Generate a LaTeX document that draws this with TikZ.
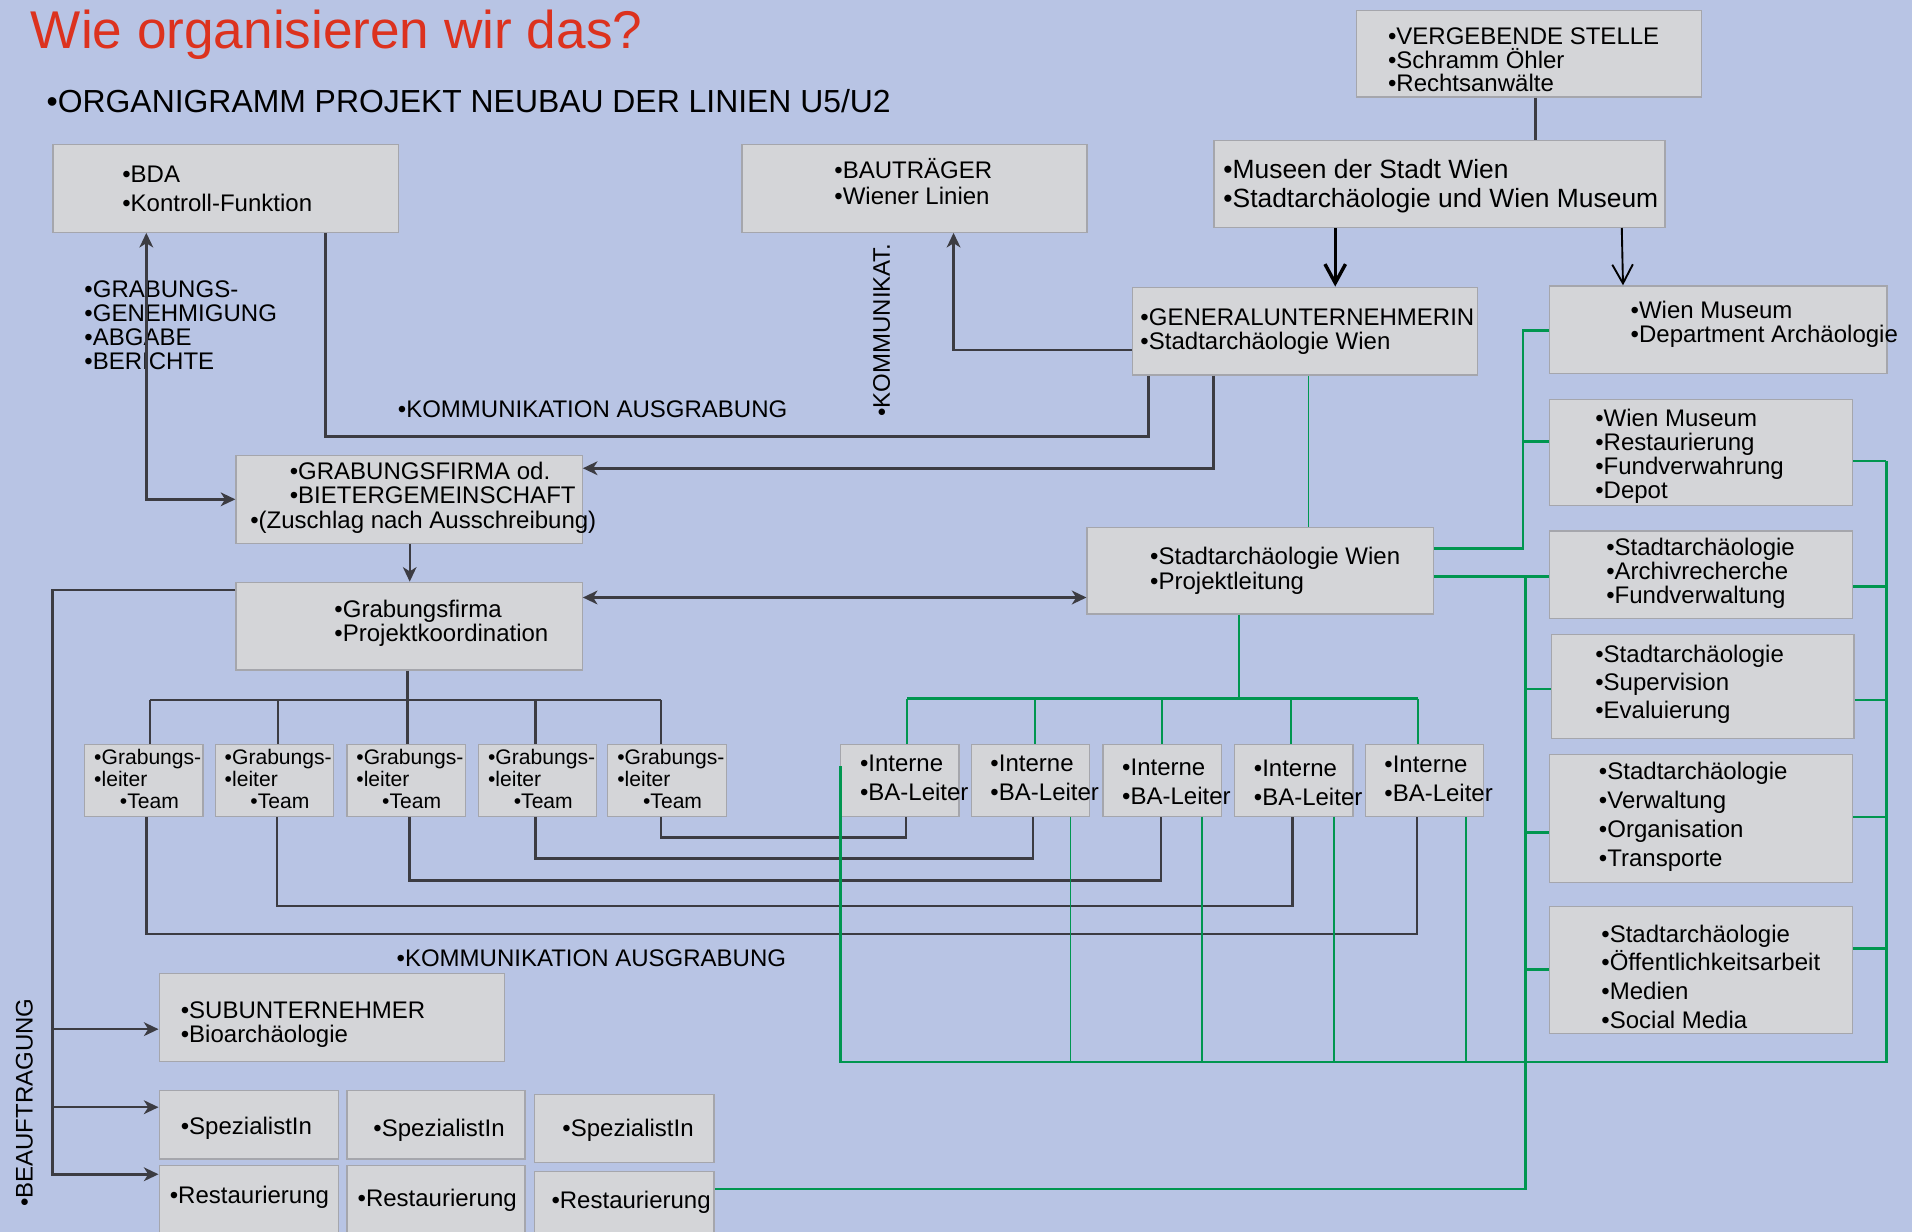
\documentclass[tikz,border=0pt]{standalone}
\usepackage{fontspec}
\setmainfont{Liberation Sans}
\usetikzlibrary{arrows.meta}

\definecolor{bgblue}{RGB}{184,196,228}
\definecolor{boxfill}{RGB}{212,213,216}
\definecolor{boxline}{RGB}{165,166,172}
\definecolor{darkline}{RGB}{60,60,66}
\definecolor{greenline}{RGB}{0,150,80}
\definecolor{titlered}{RGB}{220,50,30}

\newcommand\pxu{0.025cm}

\tikzset{
  box/.style={draw=boxline, fill=boxfill, line width=0.7pt, inner sep=0pt, anchor=north west},
  tx/.style={inner sep=0pt, anchor=west, align=left, font=\fontsize{14}{17}\selectfont},
  dk/.style={draw=darkline, line width=1.5pt},
  gn/.style={draw=greenline, line width=1pt},
  gnk/.style={draw=greenline, line width=1.6pt},
}

\begin{document}
\begin{tikzpicture}[x=\pxu, y=-\pxu, >={Stealth[length=8.5pt,width=8pt,inset=2.5pt]}]
  \fill[bgblue] (0,0) rectangle (1568,1010);
  \useasboundingbox (0,0) rectangle (1568,1010);

  \node[anchor=base west, inner sep=0pt, text=titlered, font=\fontsize{31}{36}\selectfont] (title) at (25,40) {Wie organisieren wir das?};
  \node[anchor=base west, inner sep=0pt, font=\fontsize{18.6}{22}\selectfont] (head) at (38,92) {•ORGANIGRAMM PROJEKT NEUBAU DER LINIEN U5/U2};

  % top boxes
  \node[box, minimum width=283*\pxu, minimum height=71*\pxu] (verg) at (1112,8) {};
  \node[tx, font=\fontsize{14}{13.9}\selectfont] (verg-t) at (1138,49) {•VERGEBENDE STELLE\\•Schramm Öhler\\•Rechtsanwälte};
  \node[box, minimum width=370*\pxu, minimum height=71*\pxu] (mus) at (995,115) {};
  \node[tx, font=\fontsize{15.4}{17}\selectfont] (mus-t) at (1003,153) {•Museen der Stadt Wien\\•Stadtarchäologie und Wien Museum};
  \node[box, minimum width=283*\pxu, minimum height=72*\pxu] (bda) at (43,118) {};
  \node[tx] (bda-t) at (100,155) {•BDA\\•Kontroll-Funktion};
  \node[box, minimum width=283*\pxu, minimum height=72*\pxu] (bau) at (608,118) {};
  \node[tx, font=\fontsize{14}{15}\selectfont] (bau-t) at (684,149) {•BAUTRÄGER\\•Wiener Linien};
  \node[box, minimum width=283*\pxu, minimum height=72*\pxu] (gu) at (928,235) {};
  \node[tx, font=\fontsize{14}{14.2}\selectfont] (gu-t) at (935,272) {•GENERALUNTERNEHMERIN\\•Stadtarchäologie Wien};

  % right column
  \node[box, minimum width=277*\pxu, minimum height=72*\pxu] (wmd) at (1270,234) {};
  \node[tx, font=\fontsize{14}{14.2}\selectfont] (wmd-t) at (1337,266) {•Wien Museum\\•Department Archäologie};
  \node[box, minimum width=249*\pxu, minimum height=87*\pxu] (wmr) at (1270,327) {};
  \node[tx, font=\fontsize{14}{14}\selectfont] (wmr-t) at (1308,374) {•Wien Museum\\•Restaurierung\\•Fundverwahrung\\•Depot};
  \node[box, minimum width=249*\pxu, minimum height=72*\pxu] (sa1) at (1270,435) {};
  \node[tx, font=\fontsize{14}{13.9}\selectfont] (sa1-t) at (1317,470) {•Stadtarchäologie\\•Archivrecherche\\•Fundverwaltung};
  \node[box, minimum width=248*\pxu, minimum height=85*\pxu] (sa2) at (1272,520) {};
  \node[tx, font=\fontsize{14}{16.4}\selectfont] (sa2-t) at (1308,561) {•Stadtarchäologie\\•Supervision\\•Evaluierung};
  \node[box, minimum width=249*\pxu, minimum height=105*\pxu] (sa3) at (1270,618) {};
  \node[tx, font=\fontsize{14}{16.8}\selectfont] (sa3-t) at (1311,670) {•Stadtarchäologie\\•Verwaltung\\•Organisation\\•Transporte};
  \node[box, minimum width=249*\pxu, minimum height=104*\pxu] (sa4) at (1270,743) {};
  \node[tx, font=\fontsize{14}{16.8}\selectfont] (sa4-t) at (1313,801) {•Stadtarchäologie\\•Öffentlichkeitsarbeit\\•Medien\\•Social Media};

  % middle boxes
  \node[box, minimum width=284*\pxu, minimum height=72*\pxu] (gfod) at (193,373) {};
  \node[tx, font=\fontsize{14}{14.2}\selectfont] (gfod-t) at (205,408) {\hspace*{23pt}•GRABUNGSFIRMA od.\\\hspace*{23pt}•BIETERGEMEINSCHAFT\\•(Zuschlag nach Ausschreibung)};
  \node[box, minimum width=284*\pxu, minimum height=71*\pxu] (pl) at (891,432) {};
  \node[tx, font=\fontsize{14}{14.2}\selectfont] (pl-t) at (943,468) {•Stadtarchäologie Wien\\•Projektleitung};
  \node[box, minimum width=284*\pxu, minimum height=72*\pxu] (pk) at (193,477) {};
  \node[tx, font=\fontsize{14}{14.2}\selectfont] (pk-t) at (274,511) {•Grabungsfirma\\•Projektkoordination};

  \foreach \i/\x in {1/69, 2/176, 3/284, 4/392, 5/498} {
    \node[box, minimum width=97*\pxu, minimum height=59*\pxu] (gl\i) at (\x,610) {};
    \node[tx, font=\fontsize{12.3}{12.8}\selectfont] (gl\i-t) at (\x+8,639) {•Grabungs-\\•leiter\\\hspace*{15pt}•Team};
  }
  \foreach \i/\x/\y in {1/689/638, 2/796/638, 3/904/641, 4/1012/642, 5/1119/639} {
    \node[box, minimum width=97*\pxu, minimum height=59*\pxu] (ba\i) at (\x,610) {};
    \node[tx] (ba\i-t) at (\x+16,\y) {•Interne\\•BA-Leiter};
  }

  % bottom boxes
  \node[box, minimum width=283*\pxu, minimum height=72*\pxu] (sub) at (130,798) {};
  \node[tx, font=\fontsize{14}{14.2}\selectfont] (sub-t) at (148,840) {•SUBUNTERNEHMER\\•Bioarchäologie};
  \node[box, minimum width=147*\pxu, minimum height=56*\pxu] (sp1) at (130,894) {};
  \node[tx] (sp1-t) at (148,925) {•SpezialistIn};
  \node[box, minimum width=146*\pxu, minimum height=56*\pxu] (sp2) at (284,894) {};
  \node[tx] (sp2-t) at (306,927) {•SpezialistIn};
  \node[box, minimum width=147*\pxu, minimum height=56*\pxu] (sp3) at (438,897) {};
  \node[tx] (sp3-t) at (461,927) {•SpezialistIn};
  \node[box, minimum width=147*\pxu, minimum height=70*\pxu] (rs1) at (130,955) {};
  \node[tx] (rs1-t) at (139,982) {•Restaurierung};
  \node[box, minimum width=146*\pxu, minimum height=70*\pxu] (rs2) at (284,955) {};
  \node[tx] (rs2-t) at (293,984) {•Restaurierung};
  \node[box, minimum width=147*\pxu, minimum height=70*\pxu] (rs3) at (438,960) {};
  \node[tx] (rs3-t) at (452,986) {•Restaurierung};

  % labels
  \node[tx, font=\fontsize{14}{14}\selectfont] (gen) at (69,267) {•GRABUNGS-\\•GENEHMIGUNG\\•ABGABE\\•BERICHTE};
  \node[tx] (kom1) at (326,336) {•KOMMUNIKATION AUSGRABUNG};
  \node[tx] (kom2) at (325,786) {•KOMMUNIKATION AUSGRABUNG};
  \node[tx, rotate=90] (kom3) at (723,342) {•KOMMUNIKAT.};
  \node[tx, rotate=90] (beauf) at (20,990) {•BEAUFTRAGUNG};

  % dark connectors
  \draw[dk,<->] (bda.south -| 120,0) |- (gfod.west);
  \draw[dk] (bda.south -| 267,0) |- (942,358) -- (gu.south -| 942,0);
  \draw[dk,->] (gu.south -| 995,0) |- (gfod.east |- 0,384);
  \draw[dk,->] (gu.west |- 0,287) -| (bau.south -| 782,0);
  \draw[dk] (verg.south -| 1259,0) -- (mus.north -| 1259,0);
  \draw[black, line width=2pt, -{Straight Barb[length=11pt,width=12pt]}] (mus.south -| 1095,0) -- (gu.north -| 1095,0);
  \draw[black, line width=1.1pt, -{Straight Barb[length=11pt,width=12pt]}] (mus.south -| 1330,0) -- (wmd.north -| 1331,0);
  \draw[dk, line width=1pt, ->] (gfod.south -| 336,0) -- (pk.north -| 336,0);
  \draw[dk,<->] (pk.east |- 0,490) -- (pl.west |- 0,490);
  \draw[dk,->] (pk.west |- 0,484) -| (43,963) -- (rs1.west |- 0,963);
  \draw[dk,->] (43,844) -- (sub.west |- 0,844);
  \draw[dk,->] (43,908) -- (sp1.west |- 0,908);
  \draw[dk] (pk.south -| 334,0) -- (334,574);
  \draw[dk] (123,574) -- (542,574);
  \foreach \b/\x in {gl1/123, gl2/228, gl4/439, gl5/542}
    \draw[dk] (\x,574) -- (\b.north -| \x,0);
  \draw[dk] (334,574) -- (gl3.north -| 334,0);
  \foreach \g/\gx/\b/\bx/\y in {gl5/542/ba1/743/687, gl4/439/ba2/847/704, gl3/336/ba3/952/722, gl2/227/ba4/1060/743, gl1/120/ba5/1162/766}
    \draw[dk] (\g.south -| \gx,0) |- (\bx,\y) -- (\b.south -| \bx,0);

  % green connectors
  \draw[gn] (gu.south -| 1073,0) -- (pl.north -| 1073,0);
  \draw[gn] (pl.south -| 1016,0) -- (1016,573);
  \draw[gnk] (744,573) -- (1163,573);
  \foreach \b/\x in {ba1/744, ba2/849, ba3/953, ba4/1059, ba5/1163}
    \draw[gn] (\x,573) -- (\b.north -| \x,0);
  \draw[gnk] (pl.east |- 0,450) -| (1249,271) -- (wmd.west |- 0,271);
  \draw[gnk] (1249,362) -- (wmr.west |- 0,362);
  \draw[gnk] (pl.east |- 0,473) -- (sa1.west |- 0,473);
  \draw[gnk] (1251,473) |- (rs3.east |- 0,975);
  \foreach \b/\y in {sa2/565, sa3/683, sa4/795}
    \draw[gnk] (1251,\y) -- (\b.west |- 0,\y);
  \draw[gnk] (1547,378) -- (1547,871) -- (689,871) -- (ba1.west |- 0,628);
  \foreach \b/\x in {ba2/878, ba3/986, ba4/1094, ba5/1202}
    \draw[gn] (\b.south -| \x,0) -- (\x,871);
  \foreach \b/\y in {wmr/378, sa1/481, sa2/574, sa3/670, sa4/778}
    \draw[gnk] (\b.east |- 0,\y) -- (1547,\y);
\end{tikzpicture}
\end{document}
